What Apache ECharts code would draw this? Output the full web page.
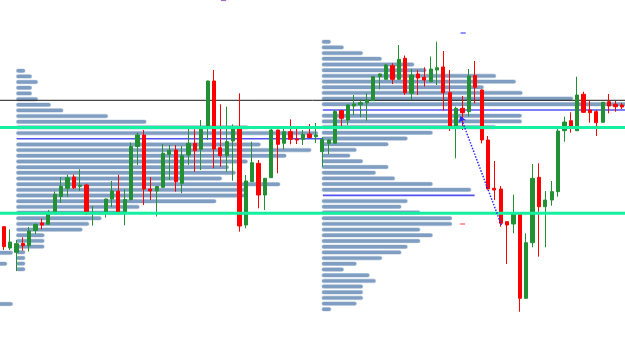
<!DOCTYPE html>
<html>
<head>
<meta charset="utf-8">
<script src="https://cdn.jsdelivr.net/npm/echarts@6/dist/echarts.min.js"></script>
<style>
html,body{margin:0;padding:0;background:#fff;}
#chart{width:625px;height:347px;}
</style>
</head>
<body>
<div id="chart"></div>
<script>
// ---- DATA ----
// OHLC candles: [open, close, low, high]
const ohlc = [
[120.3,100.3,97.0,120.6],[99.0,105.0,97.0,117.7],[94.7,103.3,76.0,107.0],[103.5,101.3,96.5,109.7],
[101.3,116.0,95.5,120.0],[116.5,122.5,113.0,123.7],[124.0,122.0,117.7,128.3],[122.8,132.4,122.0,137.0],
[134.7,152.7,133.0,155.5],[150.5,160.7,144.0,170.0],[158.7,169.2,150.0,172.3],[170.0,159.2,158.0,172.5],
[160.7,161.7,156.0,177.7],[162.0,135.0,132.0,163.3],[133.5,134.5,121.3,141.0],[133.4,134.0,132.5,135.0],
[134.7,148.0,129.5,148.2],[148.0,156.0,140.0,166.0],[155.8,134.7,133.5,172.2],[134.7,147.5,121.7,157.7],
[147.5,200.5,146.5,204.5],[200.5,212.0,182.0,214.3],[212.0,158.0,142.0,217.0],[158.0,156.0,147.0,170.0],
[156.0,160.5,130.5,161.0],[159.7,193.7,159.0,203.0],[192.7,196.7,167.0,202.0],[197.0,165.3,155.3,202.0],
[163.7,191.3,153.7,201.0],[192.0,203.7,182.0,218.0],[203.7,196.3,175.3,217.7],[197.7,217.7,177.0,227.0],
[220.0,266.0,207.0,266.3],[266.0,198.0,178.7,277.0],[199.3,191.3,180.3,242.7],[191.3,205.3,175.3,240.3],
[206.0,218.0,166.3,222.7],[218.0,121.0,115.3,253.7],[122.0,166.0,118.7,172.0],[165.3,184.3,165.0,205.3],
[183.7,152.0,138.7,187.0],[152.0,168.7,137.0,169.0],[169.3,217.0,169.0,218.7],[217.0,202.7,173.7,217.2],
[203.7,215.3,197.7,221.0],[215.3,207.7,202.7,227.7],[208.0,207.0,203.0,221.0],[207.7,212.5,202.0,217.0],
[213.0,209.5,209.0,223.0],[210.3,212.0,204.0,224.0],[195.3,207.7,180.3,210.0],[203.7,207.0,193.0,208.0],
[203.7,235.5,203.0,237.0],[236.3,228.7,220.3,236.5],[227.0,242.0,222.0,243.0],[241.0,243.0,232.0,252.0],
[242.3,244.3,229.7,247.7],[244.3,247.0,226.3,253.7],[246.3,270.3,246.0,271.0],[270.3,273.0,257.7,273.7],
[267.7,282.0,267.5,283.0],[281.3,267.7,263.0,283.7],[267.7,287.7,267.0,302.0],[288.7,254.3,252.0,291.5],
[253.7,272.0,247.0,278.0],[273.0,269.0,252.0,277.0],[269.7,267.0,260.3,279.7],[265.3,278.0,265.0,290.5],
[277.0,279.3,262.0,305.3],[280.0,254.3,236.5,296.0],[254.3,220.3,216.0,277.0],[220.3,238.7,188.7,240.3],
[238.7,234.3,217.0,251.0],[235.3,271.0,230.3,278.0],[271.5,259.7,243.7,286.0],[257.0,207.0,203.7,257.5],
[207.0,158.0,157.5,211.0],[158.7,157.0,147.0,186.0],[158.0,123.7,120.3,161.0],[125.3,122.0,83.0,125.5],
[123.0,133.0,113.7,152.3],[133.0,48.7,35.3,133.2],[48.7,104.3,48.0,113.7],[104.3,168.7,99.7,183.0],
[169.7,140.3,90.3,183.7],[140.3,147.0,99.7,156.0],[147.0,155.3,141.3,166.0],[155.3,216.0,150.3,218.7],
[216.3,225.0,205.3,230.3],[226.3,220.3,214.3,234.7],[216.3,252.0,216.0,270.3],[252.7,234.7,234.0,255.3],
[237.0,234.3,224.3,246.3],[235.3,224.3,211.0,237.0],[224.7,244.7,224.5,245.0],[245.3,241.0,233.7,253.0],
[242.7,240.3,235.3,246.0],[242.0,240.0,238.0,244.0]
];
// Time labels (30-minute bars)
const categories = [];
for (let i = 0; i < ohlc.length; i++) {
  const m = (i * 30) % 1440;
  categories.push(String(Math.floor(m / 60)).padStart(2, '0') + ':' + String(m % 60).padStart(2, '0'));
}

// Volume profiles (session start in bar index, price levels, volume per level)
const priorStart = -46.0;
const priorLevels = [94.3, 83.3, 43.0];
const priorVolumes = [47.4, 46.5, 47.4];

const leftStart = 2.0;
const leftLevels = [276.3,270.6,265.0,259.3,253.6,247.9,242.3,236.6,230.9,225.2,219.6,213.9,
  202.5,196.9,191.2,185.5,179.8,174.2,168.5,162.8,157.1,151.5,145.8,140.1,134.4,128.8,123.1,117.4,
  111.7,106.1,100.4,94.7,89.0,83.4,77.7];
const leftVolumes = [1.35,2.39,3.33,2.39,2.39,3.33,5.36,7.32,14.33,20.36,36.4,47.3,
  38.29,46.24,42.34,36.26,33.30,34.39,32.21,41.36,35.9,35.8,31.32,19.27,16.9,13.30,11.37,10.34,
  4.36,4.36,4.36,1.35,1.35,1.35,1.35];

const rightStart = 49.95;
const rightLevels = [305.3,299.6,293.9,288.2,282.5,276.8,271.1,265.4,259.7,254.1,248.4,242.7,
  231.3,225.6,219.9,214.2,208.5,202.8,197.1,191.4,185.7,180.0,174.3,168.6,163.0,157.3,
  145.9,140.2,134.5,128.8,123.1,117.4,111.7,106.0,100.3,94.6,88.9,83.2,77.5,71.8,66.1,60.5,
  54.8,49.1,43.4,37.7];
const rightVolumes = [1.35,3.38,6.39,9.35,14.44,16.36,27.27,30.39,25.35,31.43,39.38,48.3,
  31.32,31.32,27.27,17.34,13.40,10.39,5.40,4.41,6.39,10.39,8.41,11.42,17.34,23.37,
  13.40,12.42,15.38,20.37,20.37,15.38,17.34,15.38,13.40,12.42,9.39,5.40,3.38,7.43,8.41,6.39,
  6.39,6.39,5.40,1.40];

// Profile key levels (POC / value area), [fromIndex, toIndex, price]
const profileLines = [[2.03, 50.08, 208.2], [50.08, 99, 237.0], [50.08, 73.9, 151.6]];
// Horizontal levels
const blackLevels = [246.7];
const greenLevels = [219.5, 133.7];
// Arrow [fromIndex, fromPrice] -> [toIndex, toPrice]
const arrowFrom = [78.1, 122.0];
const arrowTo = [71.66, 231.0];
// Small markers [index, price, color]
const markers = [[72.1, 314.0, '#4a4aff'], [72.0, 123.0, '#ff5a5a'], [34.5, 346.5, '#a070c0']];

// ---- CHART ----
const N = ohlc.length;
const bandW = 6.416;
const chart = echarts.init(document.getElementById('chart'), null, {renderer: 'canvas'});

function buildProfile(start, levels, vols) {
  return levels.map((p, i) => [start, p, vols[i]]);
}
const profileData = [].concat(
  buildProfile(priorStart, priorLevels, priorVolumes),
  buildProfile(leftStart, leftLevels, leftVolumes),
  buildProfile(rightStart, rightLevels, rightVolumes)
);

function segRender(color, width) {
  return function (params, api) {
    const a = api.coord([api.value(0), api.value(2)]);
    const b = api.coord([api.value(1), api.value(2)]);
    return {type: 'line', shape: {x1: a[0], y1: a[1], x2: b[0], y2: b[1]},
      style: {stroke: color, lineWidth: width}};
  };
}

const option = {
  animation: false,
  backgroundColor: '#ffffff',
  grid: {left: 0.5, top: 0, width: N * bandW, height: 347, containLabel: false},
  xAxis: [
    {type: 'category', data: categories, boundaryGap: true, show: false},
    {type: 'value', min: -0.5, max: N - 0.5, show: false}
  ],
  yAxis: [{type: 'value', min: 0, max: 347, show: false}],
  series: [
    {
      name: 'profile', type: 'custom', xAxisIndex: 1, yAxisIndex: 0, z: 1,
      encode: {x: 0, y: 1}, clip: true,
      data: profileData,
      renderItem: function (params, api) {
        const a = api.coord([api.value(0), api.value(1)]);
        const b = api.coord([api.value(0) + api.value(2), api.value(1)]);
        const h = 3.4;
        return {type: 'rect',
          shape: {x: a[0], y: a[1] - h / 2, width: b[0] - a[0], height: h, r: h / 2},
          style: {fill: '#7f9ec1', stroke: 'rgba(127,158,193,0.35)', lineWidth: 1.2}};
      }
    },
    {
      name: 'profileLines', type: 'custom', xAxisIndex: 1, yAxisIndex: 0, z: 2,
      encode: {x: [0, 1], y: 2}, clip: true,
      data: profileLines,
      renderItem: segRender('#5252f2', 1.6)
    },
    {
      name: 'black', type: 'custom', xAxisIndex: 1, yAxisIndex: 0, z: 3,
      encode: {x: [0, 1], y: 2}, clip: true,
      data: blackLevels.map(p => [-1, N, p]),
      renderItem: segRender('#1a1a1a', 1)
    },
    {
      name: 'price', type: 'candlestick', xAxisIndex: 0, yAxisIndex: 0, z: 4,
      data: ohlc,
      barWidth: 3.7,
      itemStyle: {color: '#229133', color0: '#ff0000', borderColor: '#229133', borderColor0: '#ff0000', borderWidth: 1}
    },
    {
      name: 'green', type: 'custom', xAxisIndex: 1, yAxisIndex: 0, z: 6,
      encode: {x: [0, 1], y: 2}, clip: true,
      data: greenLevels.map(p => [-1, N, p]),
      renderItem: segRender('#14f0a0', 3)
    },
    {
      name: 'markers', type: 'custom', xAxisIndex: 1, yAxisIndex: 0, z: 7,
      encode: {x: 0, y: 1}, clip: false,
      data: markers,
      renderItem: function (params, api) {
        const c = api.coord([api.value(0), api.value(1)]);
        const col = markers[params.dataIndex][2];
        return {type: 'line', shape: {x1: c[0] - 2.6, y1: c[1], x2: c[0] + 2.6, y2: c[1]},
          style: {stroke: col, lineWidth: 1.2}};
      }
    },
    {
      name: 'arrow', type: 'lines', coordinateSystem: 'cartesian2d', xAxisIndex: 1, yAxisIndex: 0, z: 8,
      data: [{coords: [arrowFrom, arrowTo]}],
      symbol: ['none', 'arrow'], symbolSize: 6,
      lineStyle: {color: '#2b2bff', width: 1.5, type: 'dotted', opacity: 1}
    }
  ]
};
chart.setOption(option);
</script>
</body>
</html>
